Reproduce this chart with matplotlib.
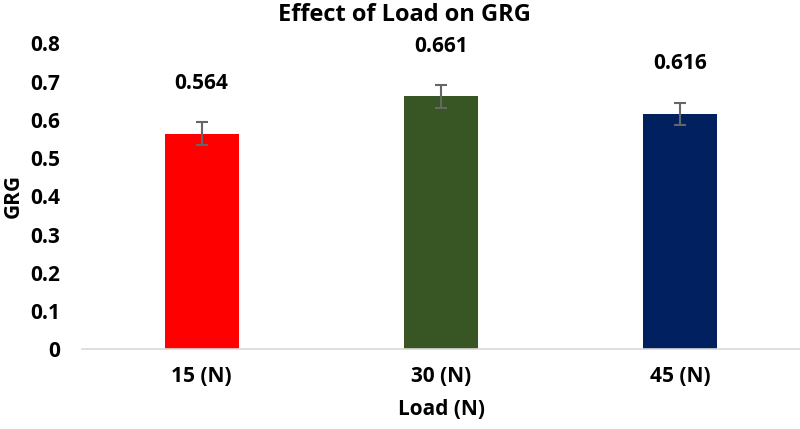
import numpy as np
import matplotlib.pyplot as plt

plt.rcParams['font.family'] = ['Open Sans', 'DejaVu Sans']

loads = ['15 (N)', '30 (N)', '45 (N)']
grg = [0.564, 0.661, 0.616]
err = [0.029, 0.029, 0.029]
colors = ['#FF0000', '#375623', '#002060']
yticks = [0, 0.1, 0.2, 0.3, 0.4, 0.5, 0.6, 0.7, 0.8]

fig = plt.figure(figsize=(8, 4.29), dpi=100)
ax = fig.add_axes([0.1025, 0.186, 0.8975, 0.713])

x = np.arange(len(loads))
ax.bar(x, grg, width=0.31, color=colors,
       yerr=err, error_kw=dict(ecolor='#666666', elinewidth=1.5, capsize=4, capthick=1.5))

for xi, v in zip(x, grg):
    ax.text(xi, v + 0.13, '%.3f' % v, ha='center', va='center',
            fontsize=15, fontweight='bold')

ax.set_xlim(-0.5, 2.5)
ax.set_ylim(0, 0.8)
ax.set_xticks(x)
ax.set_xticklabels(loads, fontsize=15, fontweight='bold')
ax.set_yticks(yticks)
ax.set_yticklabels(['0' if t == 0 else '%.1f' % t for t in yticks], fontsize=15, fontweight='bold')
ax.tick_params(axis='both', length=0)
ax.tick_params(axis='y', pad=16)
ax.tick_params(axis='x', pad=12)

for s in ['top', 'right', 'left']:
    ax.spines[s].set_visible(False)
ax.spines['bottom'].set_color('#D9D9D9')
ax.spines['bottom'].set_linewidth(1.2)

ax.set_xlabel('Load (N)', fontsize=15, fontweight='bold', labelpad=9)
ax.set_ylabel('GRG', fontsize=15, fontweight='bold', labelpad=4)
fig.text(0.506, 0.965, 'Effect of Load on GRG', ha='center', va='center',
         fontsize=17, fontweight='bold')

fig.savefig('out.png', dpi=100)
